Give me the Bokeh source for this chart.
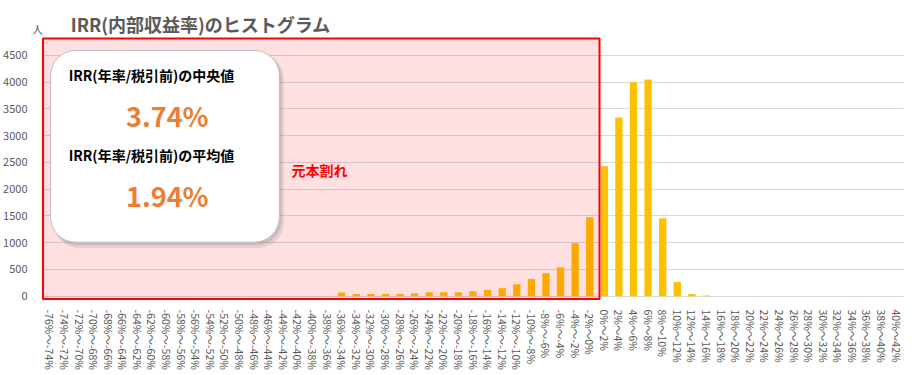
import math
from bokeh.plotting import figure
from bokeh.models import FactorRange, Range1d, BoxAnnotation, Label, FixedTicker
from bokeh.embed import file_html
from bokeh.resources import INLINE

# ---- data ----
lows = list(range(-76, 42, 2))
categories = [f"{lo}%～{lo + 2}%" for lo in lows]
counts = ([0] * 20 +
          [70, 40, 40, 40, 40, 55, 75, 75, 75, 95, 115, 150, 225, 320, 430, 540,
           990, 1475, 2430, 3340, 3995, 4050, 1455, 265, 40, 15] +
          [0] * 13)
y_ticks = list(range(0, 5000, 500))
title_text = "IRR(内部収益率)のヒストグラム"
unit_text = "人"
median_label = "IRR(年率/税引前)の中央値"
median_value = "3.74%"
mean_label = "IRR(年率/税引前)の平均値"
mean_value = "1.94%"
loss_text = "元本割れ"
loss_boundary = 38.17  # in category synthetic coordinates

FONT = "Noto Sans CJK JP"
GRAY = "#595959"
LEFT_BORDER = 33
PAD = (42 - LEFT_BORDER) / 14.54  # extra room (category units) on each side

p = figure(width=912, height=375,
           x_range=FactorRange(*categories, range_padding=PAD,
                               range_padding_units="absolute"),
           y_range=Range1d(-80, 5524),
           output_backend="svg", toolbar_location=None,
           min_border_left=LEFT_BORDER, min_border_right=0,
           min_border_top=0, min_border_bottom=75)

p.vbar(x=categories, top=counts, width=0.5, fill_color="#FFC000", line_color=None)

# axes
p.yaxis.ticker = FixedTicker(ticks=y_ticks)
p.yaxis.axis_line_color = None
p.yaxis.major_tick_line_color = None
p.yaxis.minor_tick_line_color = None
p.yaxis.major_label_text_color = GRAY
p.yaxis.major_label_text_font = FONT
p.yaxis.major_label_text_font_size = "11px"
p.yaxis.major_label_standoff = 0

p.xaxis.axis_line_color = None
p.xaxis.major_tick_line_color = None
p.xaxis.minor_tick_line_color = None
p.xaxis.major_label_orientation = -math.pi / 2
p.xaxis.major_label_text_color = GRAY
p.xaxis.major_label_text_font = FONT
p.xaxis.major_label_text_font_size = "10.5px"
p.xaxis.major_label_standoff = 3

p.ygrid.ticker = FixedTicker(ticks=y_ticks)
p.ygrid.grid_line_color = "#D9D9D9"
p.xgrid.grid_line_color = None
p.outline_line_color = None

# white strips so gridlines only span the plot area
for l, r in [(-PAD - 0.3, 0.0), (59.0, 59 + PAD + 0.3)]:
    p.add_layout(BoxAnnotation(left=l, right=r, bottom=-200, top=6000,
                               fill_color="white", fill_alpha=1, line_color=None))

# red loss region
p.add_layout(BoxAnnotation(left=0.03, right=loss_boundary, bottom=-50, top=4815,
                           fill_color="red", fill_alpha=0.12,
                           line_color="red", line_width=2, line_alpha=1,
                           line_dash="solid"))

# shadow + white rounded box
p.add_layout(BoxAnnotation(left=0.75, right=16.55, bottom=900, top=4540,
                           fill_color="#808080", fill_alpha=0.18, line_color=None,
                           border_radius=26))
p.add_layout(BoxAnnotation(left=0.65, right=16.4, bottom=950, top=4560,
                           fill_color="#808080", fill_alpha=0.25, line_color=None,
                           border_radius=26))
p.add_layout(BoxAnnotation(left=0.55, right=16.23, bottom=1008, top=4590,
                           fill_color="white", fill_alpha=1,
                           line_color="#BFBFBF", line_width=1, line_alpha=1,
                           line_dash="solid", border_radius=25))

def lab(x, y, text, size, color, bold=True, align="left"):
    p.add_layout(Label(x=x, y=y, text=text, text_font=FONT, text_font_size=size,
                       text_color=color, text_font_style="bold" if bold else "normal",
                       text_align=align, text_baseline="middle"))

lab(1.79, 4124, median_label, "14px", "#000000")
lab(8.55, 3377, median_value, "27px", "#ED7D31", align="center")
lab(1.79, 2631, mean_label, "14px", "#000000")
lab(8.55, 1885, mean_value, "27px", "#ED7D31", align="center")
lab(17.06, 2351, loss_text, "14px", "#FF0000")
lab(1.93, 5094, title_text, "18px", GRAY)
lab(-0.34, 5000, unit_text, "11px", GRAY, bold=False, align="center")

open("out.html", "w").write(file_html(p, INLINE))
